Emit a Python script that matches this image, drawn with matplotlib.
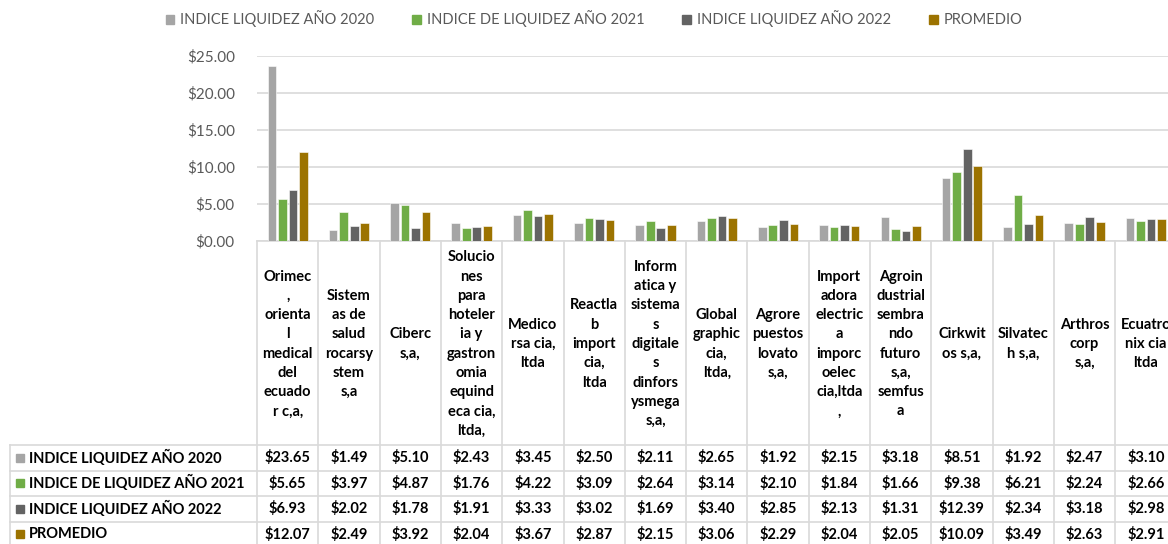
import matplotlib
matplotlib.use("Agg")
import matplotlib.pyplot as plt
from matplotlib.patches import Rectangle
from matplotlib.lines import Line2D
import numpy as np

plt.rcParams['font.family'] = ['Lato', 'DejaVu Sans']

categories = [
    "Orimec\n,\norienta\nl\nmedical\ndel\necuado\nr c,a,",
    "Sistem\nas de\nsalud\nrocarsy\nstem\ns,a",
    "Ciberc\ns,a,",
    "Solucio\nnes\npara\nhoteler\nia y\ngastron\nomia\nequind\neca cia,\nltda,",
    "Medico\nrsa cia,\nltda",
    "Reactla\nb\nimport\ncia,\nltda",
    "Inform\natica y\nsistema\ns\ndigitale\ns\ndinfors\nysmega\ns,a,",
    "Global\ngraphic\ncia,\nltda,",
    "Agrore\npuestos\nlovato\ns,a,",
    "Import\nadora\nelectric\na\nimporc\noelec\ncia,ltda\n,",
    "Agroin\ndustrial\nsembra\nndo\nfuturo\ns,a,\nsemfus\na",
    "Cirkwit\nos s,a,",
    "Silvatec\nh s,a,",
    "Arthros\ncorp\ns,a,",
    "Ecuatro\nnix cia\nltda",
]
series_names = ["INDICE LIQUIDEZ AÑO 2020", "INDICE DE LIQUIDEZ AÑO 2021",
                "INDICE LIQUIDEZ AÑO 2022", "PROMEDIO"]
idx_2020 = [23.65, 1.49, 5.10, 2.43, 3.45, 2.50, 2.11, 2.65, 1.92, 2.15, 3.18, 8.51, 1.92, 2.47, 3.10]
idx_2021 = [5.65, 3.97, 4.87, 1.76, 4.22, 3.09, 2.64, 3.14, 2.10, 1.84, 1.66, 9.38, 6.21, 2.24, 2.66]
idx_2022 = [6.93, 2.02, 1.78, 1.91, 3.33, 3.02, 1.69, 3.40, 2.85, 2.13, 1.31, 12.39, 2.34, 3.18, 2.98]
promedio = [12.07, 2.49, 3.92, 2.04, 3.67, 2.87, 2.15, 3.06, 2.29, 2.04, 2.05, 10.09, 3.49, 2.63, 2.91]
yticks = [0, 5, 10, 15, 20, 25]

series = [idx_2020, idx_2021, idx_2022, promedio]
colors = ["#A5A5A5", "#70AD47", "#636363", "#9C7300"]
grid_c = "#D9D9D9"
txt_c = "#595959"

W, H = 1168, 544
fig = plt.figure(figsize=(W / 100, H / 100), dpi=100)

# layout in pixels
col0 = 257
colw = 61.3
ncol = len(categories)
plot_top = 56
plot_bot = 241
table_left = 10
row_top = 445
rowh = 25.5

ax = fig.add_axes([col0 / W, 1 - plot_bot / H, ncol * colw / W, (plot_bot - plot_top) / H])
x = np.arange(ncol) + 0.5
slot = 0.172
for k, (vals, c, name) in enumerate(zip(series, colors, series_names)):
    ax.bar(x + (k - 1.5) * slot, vals, width=slot * 0.82, color=c, edgecolor="white",
           linewidth=0.4, zorder=3, label=name)
ax.set_xlim(0, ncol)
ax.set_ylim(0, 25)
ax.set_yticks(yticks)
ax.set_yticklabels([f"${v:.2f}" for v in yticks], color=txt_c, fontsize=11)
ax.tick_params(axis='y', length=0, pad=16)
ax.set_xticks([])
ax.grid(axis='y', color=grid_c, linewidth=1.2, zorder=0)
for s in ["left", "right", "top"]:
    ax.spines[s].set_visible(False)
ax.spines["bottom"].set_color(grid_c)
ax.spines["bottom"].set_linewidth(1.2)

# table axes in pixel coordinates
tax = fig.add_axes([0, 0, 1, 1])
tax.set_xlim(0, W)
tax.set_ylim(H, 0)
tax.axis("off")
tax.patch.set_alpha(0)

nrows = len(series)
table_bot = row_top + nrows * rowh
for i in range(ncol + 1):
    xx = col0 + i * colw
    tax.add_line(Line2D([xx, xx], [plot_bot, table_bot], color=grid_c, lw=1.2))
tax.add_line(Line2D([table_left, table_left], [row_top, table_bot], color=grid_c, lw=1.2))
for r in range(nrows + 1):
    yy = row_top + r * rowh
    tax.add_line(Line2D([table_left, col0 + ncol * colw], [yy, yy], color=grid_c, lw=1.2))

# category labels
for i, lab in enumerate(categories):
    tax.text(col0 + (i + 0.5) * colw, (plot_bot + row_top) / 2 + 1, lab, ha="center", va="center",
             fontsize=10.5, fontweight="bold", color="black", linespacing=1.48)

# rows
for r, (vals, c, name) in enumerate(zip(series, colors, series_names)):
    yc = row_top + (r + 0.5) * rowh
    tax.add_patch(Rectangle((16, yc - 4), 8, 8, color=c))
    tax.text(29, yc, name, ha="left", va="center", fontsize=10.5, fontweight="bold", color="black")
    for i, v in enumerate(vals):
        tax.text(col0 + (i + 0.5) * colw, yc, f"${v:.2f}", ha="center", va="center",
                 fontsize=10.5, fontweight="bold", color="black")

# legend
handles = [Rectangle((0, 0), 1, 1, color=c) for c in colors]
leg = fig.legend(handles, series_names, loc="center", bbox_to_anchor=(594 / W, 1 - 19 / H),
                 ncol=4, frameon=False, fontsize=10.5, handlelength=0.6, handleheight=0.6,
                 handletextpad=0.4, columnspacing=2.6)
for t in leg.get_texts():
    t.set_color(txt_c)

fig.savefig("out.png", dpi=100)
